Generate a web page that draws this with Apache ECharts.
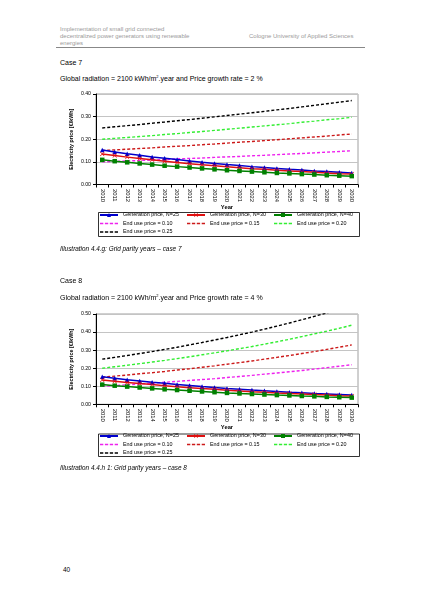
<!DOCTYPE html>
<html>
<head>
<meta charset="utf-8">
<script src="https://cdn.jsdelivr.net/npm/echarts@6/dist/echarts.min.js"></script>
<style>
  html, body { margin: 0; padding: 0; background: #fff; }
  body { width: 424px; height: 600px; position: relative; overflow: hidden; font-family: 'Liberation Sans', Arial, sans-serif; }
  .t { position: absolute; white-space: nowrap; line-height: 1; color: #000; }
  .hdr { color: #9a9a9a; font-size: 6px; line-height: 7.3px; }
  .chart { position: absolute; left: 0; width: 424px; }
</style>
</head>
<body>
<div class="t hdr" style="left:60px; top:25.5px;">Implementation of small grid connected<br>decentralized power generators using renewable<br>energies</div>
<div class="t hdr" style="left:249px; top:32.5px;">Cologne University of Applied Sciences</div>
<div style="position:absolute; left:56px; top:47px; width:309px; height:0; border-top:1px solid #888;"></div>

<div class="t" style="left:60px; top:58.5px; font-size:7px;">Case 7</div>
<div class="t" style="left:60px; top:74.5px; font-size:7px;">Global radiation = 2100 kWh/m<sup style="font-size:4px;">2</sup>.year and Price growth rate = 2 %</div>
<div id="chart1" class="chart" style="top:80px; height:170px;"></div>
<div class="t" style="left:60px; top:245.5px; font-size:6.4px; font-style:italic;">Illustration 4.4.g: Grid parity years – case 7</div>

<div class="t" style="left:60px; top:277px; font-size:7px;">Case 8</div>
<div class="t" style="left:60px; top:293.5px; font-size:7px;">Global radiation = 2100 kWh/m<sup style="font-size:4px;">2</sup>.year and Price growth rate = 4 %</div>
<div id="chart2" class="chart" style="top:300px; height:160px;"></div>
<div class="t" style="left:60px; top:464.5px; font-size:6.4px; font-style:italic;">Illustration 4.4.h 1: Grid parity years – case 8</div>

<div class="t" style="left:63px; top:566.5px; font-size:6.5px;">40</div>

<script>
// years on the x axis
const years = ['2010','2011','2012','2013','2014','2015','2016','2017','2018','2019','2020',
  '2021','2022','2023','2024','2025','2026','2027','2028','2029','2030'];

// generation price (same in both cases)
const gen25 = [0.152,0.144,0.136,0.129,0.122,0.116,0.110,0.104,0.098,0.093,0.088,0.084,0.079,0.075,0.071,0.067,0.064,0.060,0.057,0.054,0.051];
const gen30 = [0.135,0.128,0.121,0.115,0.109,0.103,0.097,0.092,0.087,0.083,0.078,0.074,0.070,0.067,0.063,0.060,0.057,0.054,0.051,0.048,0.046];
const gen40 = [0.109,0.103,0.098,0.093,0.088,0.083,0.079,0.075,0.071,0.067,0.063,0.060,0.057,0.054,0.051,0.049,0.046,0.044,0.041,0.039,0.037];

// case 7: end use prices, 2 % growth
const c7end10 = [0.100,0.102,0.104,0.106,0.108,0.110,0.113,0.115,0.117,0.120,0.122,0.124,0.127,0.129,0.132,0.135,0.137,0.140,0.143,0.146,0.149];
const c7end15 = [0.150,0.153,0.156,0.159,0.162,0.166,0.169,0.172,0.176,0.179,0.183,0.187,0.190,0.194,0.198,0.202,0.206,0.210,0.214,0.219,0.223];
const c7end20 = [0.200,0.204,0.208,0.212,0.216,0.221,0.225,0.230,0.234,0.239,0.244,0.249,0.254,0.259,0.264,0.269,0.275,0.280,0.286,0.291,0.297];
const c7end25 = [0.250,0.255,0.260,0.265,0.271,0.276,0.282,0.287,0.293,0.299,0.305,0.311,0.317,0.323,0.330,0.336,0.343,0.350,0.357,0.364,0.371];

// case 8: end use prices, 4 % growth
const c8end10 = [0.100,0.104,0.108,0.112,0.117,0.122,0.127,0.132,0.137,0.142,0.148,0.154,0.160,0.167,0.173,0.180,0.187,0.195,0.203,0.211,0.219];
const c8end15 = [0.150,0.156,0.162,0.169,0.175,0.182,0.190,0.197,0.205,0.213,0.222,0.231,0.240,0.250,0.260,0.270,0.281,0.292,0.304,0.316,0.329];
const c8end20 = [0.200,0.208,0.216,0.225,0.234,0.243,0.253,0.263,0.274,0.285,0.296,0.308,0.320,0.333,0.346,0.360,0.375,0.390,0.405,0.421,0.438];
const c8end25 = [0.250,0.260,0.270,0.281,0.292,0.304,0.316,0.329,0.342,0.356,0.370,0.385,0.400,0.416,0.433,0.450,0.468,0.487,0.506,0.527,0.548];

const names = ['Generation price, N=25', 'Generation price, N=30', 'Generation price, N=40',
  'End use price = 0.10', 'End use price = 0.15', 'End use price = 0.20', 'End use price = 0.25'];

const FONT = 'Liberation Sans';
const xMark = 'path://M0,1L1,0L5,4L9,0L10,1L6,5L10,9L9,10L5,6L1,10L0,9L4,5Z';
// dashed legend icon (first two moves just fix the 18x5 box)
const dashIcon = 'path://M0,0M18,5M0,1.8h3.3v1.4h-3.3zM4.9,1.8h3.3v1.4h-3.3zM9.8,1.8h3.3v1.4h-3.3zM14.7,1.8h3.3v1.4h-3.3z';

function genSeries(name, data, color, symbol) {
  return {
    name, type: 'line', data, symbol, symbolSize: 4.5,
    lineStyle: { color, width: 1.5 },
    itemStyle: { color },
    z: 3
  };
}

function endSeries(name, data, color) {
  return {
    name, type: 'line', data, symbol: 'none',
    lineStyle: { color, width: 1.4, type: [3, 2] },
    itemStyle: { color },
    z: 2
  };
}

function legItem(i) {
  return i >= 3 ? { name: names[i], icon: dashIcon } : { name: names[i] };
}

function makeOption(yMax, ends, gridH, nameGap, legTop, boxTop, boxH) {
  const legBase = {
    orient: 'vertical', itemWidth: 18, itemHeight: 5, itemGap: 2.5,
    textStyle: { fontFamily: FONT, fontSize: 5.4, color: '#000', lineHeight: 6 },
    selectedMode: false, padding: 0
  };
  return {
    animation: false,
    grid: { left: 96, right: 66, top: 14, height: gridH, show: true, borderColor: '#888', borderWidth: 0.8 },
    xAxis: {
      type: 'category', data: years, boundaryGap: true,
      name: 'Year', nameLocation: 'middle', nameGap, nameMoveOverlap: false,
      nameTextStyle: { fontFamily: FONT, fontSize: 5.8, fontWeight: 'bold', color: '#000' },
      axisLine: { lineStyle: { color: '#000', width: 1 } },
      axisTick: { show: true, inside: false, length: 3, lineStyle: { color: '#000' } },
      axisLabel: { rotate: -90, margin: 4.5, interval: 0, fontFamily: FONT, fontSize: 5.8, color: '#000' }
    },
    yAxis: {
      type: 'value', min: 0, max: yMax, interval: 0.1,
      name: 'Electricity price [€/kWh]', nameLocation: 'middle', nameGap: 22, nameMoveOverlap: false,
      nameTextStyle: { fontFamily: FONT, fontSize: 5.4, fontWeight: 'bold', color: '#000' },
      axisLine: { show: true, lineStyle: { color: '#000', width: 1 } },
      axisTick: { show: true, inside: false, length: 3, lineStyle: { color: '#000' } },
      axisLabel: { margin: 5, fontFamily: FONT, fontSize: 5.2, color: '#000', formatter: v => v.toFixed(2) },
      splitLine: { lineStyle: { color: '#c4c4c4', width: 1 } }
    },
    legend: [
      Object.assign({}, legBase, { left: 99, top: legTop, data: [0, 3, 6].map(legItem) }),
      Object.assign({}, legBase, { left: 186, top: legTop, data: [1, 4].map(legItem) }),
      Object.assign({}, legBase, { left: 273, top: legTop, data: [2, 5].map(legItem) })
    ],
    graphic: [{
      type: 'rect', left: 96, top: boxTop, silent: true,
      shape: { width: 261, height: boxH },
      style: { fill: 'none', stroke: '#000', lineWidth: 0.8 }
    }],
    series: [
      genSeries(names[0], gen25, '#0000cc', 'triangle'),
      genSeries(names[1], gen30, '#e01010', xMark),
      genSeries(names[2], gen40, '#008000', 'rect'),
      endSeries(names[3], ends[0], '#ee22ee'),
      endSeries(names[4], ends[1], '#cc1a1a'),
      endSeries(names[5], ends[2], '#33ee33'),
      endSeries(names[6], ends[3], '#000000')
    ]
  };
}

const chart1 = echarts.init(document.getElementById('chart1'));
chart1.setOption(makeOption(0.4, [c7end10, c7end15, c7end20, c7end25], 90.5, 19.5, 132, 130, 24));

const chart2 = echarts.init(document.getElementById('chart2'));
chart2.setOption(makeOption(0.5, [c8end10, c8end15, c8end20, c8end25], 90.3, 20.5, 133, 131.5, 22.5));
</script>
</body>
</html>
